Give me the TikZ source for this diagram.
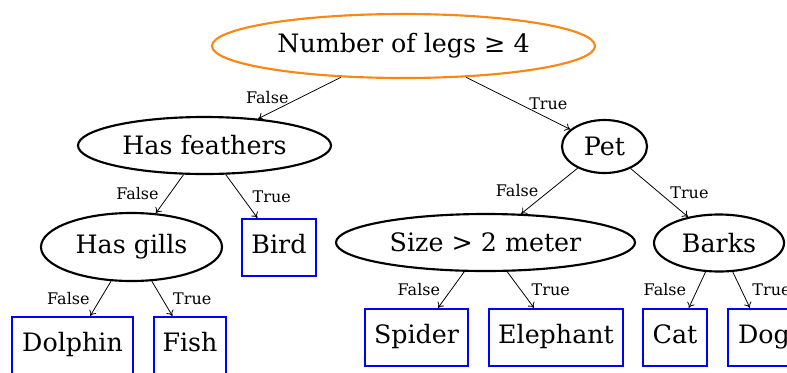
\documentclass[tikz,border=0pt]{standalone}
\usepackage{fontspec}
\setmainfont{DejaVu Serif}
\usetikzlibrary{shapes.geometric,arrows.meta}
\definecolor{rootorange}{RGB}{250,135,20}
\definecolor{leafblue}{RGB}{0,0,255}
\tikzset{
  cond/.style={ellipse, draw=black, line width=1.6pt, inner sep=0pt, font=\fontsize{19}{21}\selectfont},
  rootcond/.style={cond, draw=rootorange},
  leaf/.style={rectangle, draw=leafblue, line width=1.6pt, inner sep=0pt, minimum height=42.75pt,
    text height=14pt, text depth=5pt, font=\fontsize{19}{21}\selectfont},
  edge/.style={line width=0.6pt, -{To[length=4pt,width=6pt]}},
  lbl/.style={inner sep=0pt, font=\fontsize{12}{14}\selectfont},
  flbl/.style={lbl, midway, left=8pt},
  tlbl/.style={lbl, midway, right=8pt}
}
\begin{document}
\begin{tikzpicture}[x=0.75pt, y=-0.75pt]
\useasboundingbox (0,0) rectangle (787,372);
\clip (0,0) rectangle (787,372);
% decision nodes
\node[rootcond, minimum width=287.25pt, minimum height=48pt] (root) at (403.5,46) {Number of legs ≥ 4};
\node[cond, minimum width=189.75pt, minimum height=42.75pt] (hf) at (204.5,145.5) {Has feathers};
\node[cond, minimum width=135.75pt, minimum height=51pt] (hg) at (131.5,247) {Has gills};
\node[cond, minimum width=63.75pt, minimum height=39.75pt] (pet) at (604.5,146.5) {Pet};
\node[cond, minimum width=224.25pt, minimum height=42.75pt] (size) at (485.5,242.5) {Size > 2 meter};
\node[cond, minimum width=97.5pt, minimum height=42.75pt] (barks) at (719,243) {Barks};
% leaves
\node[leaf, minimum width=55.5pt] (bird) at (279,247.5) {Bird};
\node[leaf, minimum width=90.75pt] (dolphin) at (72.5,345.5) {Dolphin};
\node[leaf, minimum width=54pt] (fish) at (190,345.5) {Fish};
\node[leaf, minimum width=77.25pt] (spider) at (416.5,337.5) {Spider};
\node[leaf, minimum width=100.5pt] (elephant) at (556,337.5) {Elephant};
\node[leaf, minimum width=48pt] (cat) at (675,337.5) {Cat};
\node[leaf, minimum width=54pt] (dog) at (764,337.5) {Dog};
% edges
\draw[edge] (root) -- (hf) node[flbl] {False};
\draw[edge] (root) -- (pet) node[tlbl] {True};
\draw[edge] (hf) -- (hg) node[flbl] {False};
\draw[edge] (hf) -- (bird) node[tlbl] {True};
\draw[edge] (hg) -- (dolphin) node[flbl] {False};
\draw[edge] (hg) -- (fish) node[tlbl] {True};
\draw[edge] (pet) -- (size) node[flbl] {False};
\draw[edge] (pet) -- (barks) node[tlbl] {True};
\draw[edge] (size) -- (spider) node[flbl] {False};
\draw[edge] (size) -- (elephant) node[tlbl] {True};
\draw[edge] (barks) -- (cat) node[flbl] {False};
\draw[edge] (barks) -- (dog) node[tlbl] {True};
\end{tikzpicture}
\end{document}
